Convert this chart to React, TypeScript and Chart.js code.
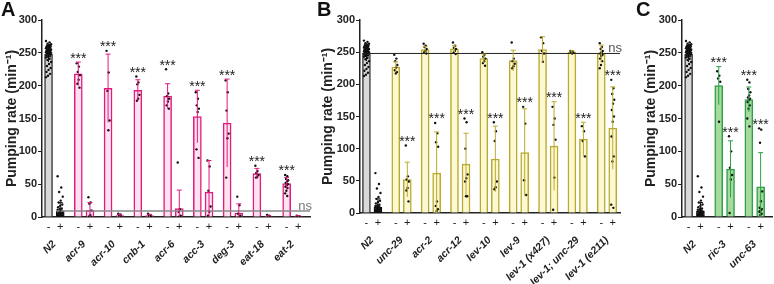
import React, { useEffect, useRef } from 'react';
import { Chart, registerables } from 'chart.js';
Chart.register(...registerables);

// ---------- DATA ----------
const Y_TICK_STEP = 50;
const Y_MAX = 300;
const SIGN_LABELS = ['-', '+'];
const Y_TITLE = 'Pumping rate (min\u207B\u00B9)';

const N2_MINUS_PTS = [268, 266, 264, 263, 262, 261, 260, 260, 259, 258, 258, 257, 256, 256, 255, 255, 254, 254, 253, 253, 252, 252, 251, 251, 250, 250, 249, 249, 248, 247, 246, 245, 244, 243, 241, 239, 236, 233, 230, 227, 224, 221, 218, 215, 213];
const N2_PLUS_PTS = [62, 45, 38, 31, 25, 22, 19, 17, 15, 13, 12, 11, 10, 9, 8, 7, 6, 6, 5, 5, 4, 4, 3, 3, 2, 2, 1, 1, 0, 0, 0, 0, 0, 0];

// Panel A
const A_GROUPS = ['N2', 'acr-9', 'acr-10', 'cnb-1', 'acr-6', 'acc-3', 'deg-3', 'eat-18', 'eat-2'];
const A_MINUS_MEAN = [248, 218, 196, 193, 184, 153, 143, 66, 51];
const A_MINUS_SD = [12, 18, 52, 16, 19, 40, 67, 8, 9];
const A_PLUS_MEAN = [9, 10, 2, 2, 13, 38, 6, 1, 1];
const A_PLUS_SD = [13, 12, 2, 2, 28, 48, 14, 1, 1];
const A_MINUS_PTS = [
  N2_MINUS_PTS,
  [234, 229, 221, 216, 209, 203, 197],
  [253, 220, 192, 147, 132],
  [214, 205, 202, 186, 180, 177],
  [225, 188, 184, 180, 176, 170, 165],
  [190, 180, 170, 165, 160, 103, 90],
  [208, 190, 162, 127, 120, 60],
  [78, 70, 67, 64, 61, 60],
  [64, 62, 58, 56, 54, 52, 50, 48, 46, 44, 40, 36, 32],
];
const A_PLUS_PTS = [
  N2_PLUS_PTS,
  [30, 22, 20, 10, 3, 1, 0],
  [5, 4, 2, 1, 0],
  [5, 3, 2, 1, 0],
  [83, 12, 8, 2, 0, 0],
  [86, 77, 40, 16, 8, 2],
  [31, 18, 5, 2, 0],
  [3, 2, 1, 1, 0],
  [2, 1, 1, 0, 0, 0],
];
const A_MINUS_SIG = ['', '***', '***', '***', '***', '***', '***', '***', '***'];
const A_PLUS_SIG = ['', '', '', '', '', '', '', '', ''];

// Panel B
const B_GROUPS = ['N2', 'unc-29', 'acr-2', 'acr-12', 'lev-10', 'lev-9', 'lev-1 (x427)', 'lev-1; unc-29', 'lev-1 (e211)'];
const B_MINUS_MEAN = [248, 227, 254, 255, 240, 237, 254, 250, 248];
const B_MINUS_SD = [12, 8, 5, 5, 7, 16, 20, 2, 13];
const B_PLUS_MEAN = [9, 52, 62, 76, 84, 94, 104, 115, 132];
const B_PLUS_SD = [13, 27, 64, 48, 51, 68, 69, 26, 64];
const B_MINUS_PTS = [
  N2_MINUS_PTS,
  [246, 240, 236, 230, 226, 222, 219, 217],
  [263, 260, 258, 255, 252, 250, 248],
  [265, 260, 257, 255, 252, 249, 247],
  [250, 246, 243, 240, 236, 233, 229],
  [265, 240, 236, 232, 228, 225],
  [273, 264, 252, 248, 235],
  [252, 251, 250, 249, 248],
  [264, 258, 255, 252, 250, 248, 246, 244, 240, 236, 230, 225],
];
const B_PLUS_PTS = [
  N2_PLUS_PTS,
  [105, 57, 52, 49, 39, 35, 18],
  [140, 124, 110, 103, 18, 11, 6, 3],
  [147, 141, 100, 60, 54, 49, 26, 26],
  [141, 127, 112, 49, 40, 37],
  [165, 139, 51, 28],
  [165, 147, 137, 114, 55, 5],
  [135, 127, 112, 88],
  [207, 194, 185, 176, 170, 160, 150, 142, 119, 88, 80, 13, 8],
];
const B_MINUS_SIG = ['', '', '', '', '', '', '', '', ''];
const B_PLUS_SIG = ['', '***', '***', '***', '***', '***', '***', '***', '***'];

// Panel C
const C_GROUPS = ['N2', 'ric-3', 'unc-63'];
const C_MINUS_MEAN = [248, 200, 179];
const C_MINUS_SD = [12, 29, 19];
const C_PLUS_MEAN = [9, 73, 46];
const C_PLUS_SD = [13, 43, 52];
const C_MINUS_PTS = [N2_MINUS_PTS, [222, 215, 211, 206, 145], [209, 205, 195, 190, 185, 182, 180, 178, 175, 170, 165, 150, 138]];
const C_PLUS_PTS = [N2_PLUS_PTS, [123, 100, 75, 64, 57, 6], [135, 133, 113, 39, 24, 14, 12, 10, 8, 5, 3]];
const C_MINUS_SIG = ['', '***', '***'];
const C_PLUS_SIG = ['', '***', '***'];

// ---------- STYLE / LAYOUT ----------
const FONT = '"Liberation Sans", Arial, Helvetica, sans-serif';
const H = 284;
const GAP = 2.55;
const X_MIN = -0.56;

type RefLine = { value: number; startBar: [number, number]; color: string; width: number; textColor: string };
type Panel = {
  key: string; letter: string; letterX: number;
  left: number; width: number; yWidth: number; padRight: number; bottom: number; xMax: number;
  groups: string[]; minusMean: number[]; minusSd: number[]; plusMean: number[]; plusSd: number[];
  minusPts: number[][]; plusPts: number[][]; minusSig: string[]; plusSig: string[];
  border: string; fill: string; plusFill: string; ref?: RefLine;
};

const PANELS: Panel[] = [
  {
    key: 'A', letter: 'A', letterX: 1, left: 0, width: 316, yWidth: 42, padRight: 6, bottom: 217, xMax: 22.4,
    groups: A_GROUPS, minusMean: A_MINUS_MEAN, minusSd: A_MINUS_SD, plusMean: A_PLUS_MEAN, plusSd: A_PLUS_SD,
    minusPts: A_MINUS_PTS, plusPts: A_PLUS_PTS, minusSig: A_MINUS_SIG, plusSig: A_PLUS_SIG,
    border: '#e3197e', fill: '#fde2f0', plusFill: '#fde2f0',
    ref: { value: A_PLUS_MEAN[0], startBar: [0, 1], color: '#8a8a8a', width: 1.5, textColor: '#777' },
  },
  {
    key: 'B', letter: 'B', letterX: 317, left: 316, width: 323, yWidth: 44, padRight: 19, bottom: 213, xMax: 22.03,
    groups: B_GROUPS, minusMean: B_MINUS_MEAN, minusSd: B_MINUS_SD, plusMean: B_PLUS_MEAN, plusSd: B_PLUS_SD,
    minusPts: B_MINUS_PTS, plusPts: B_PLUS_PTS, minusSig: B_MINUS_SIG, plusSig: B_PLUS_SIG,
    border: '#b9aa2e', fill: '#fcf9d2', plusFill: '#fcf9d2',
    ref: { value: B_MINUS_MEAN[0], startBar: [0, 0], color: '#222', width: 1, textColor: '#555' },
  },
  {
    key: 'C', letter: 'C', letterX: 636, left: 639, width: 135, yWidth: 43, padRight: 1, bottom: 217, xMax: 7.13,
    groups: C_GROUPS, minusMean: C_MINUS_MEAN, minusSd: C_MINUS_SD, plusMean: C_PLUS_MEAN, plusSd: C_PLUS_SD,
    minusPts: C_MINUS_PTS, plusPts: C_PLUS_PTS, minusSig: C_MINUS_SIG, plusSig: C_PLUS_SIG,
    border: '#2f9f4a', fill: '#a5dc9e', plusFill: '#a5dc9e',
  },
];

const pos = (g: number, s: number) => g * GAP + s;

function jitter(i: number, n: number) {
  const spread = n > 15 ? 0.22 : 0.13;
  return (((i * 7) % 11) - 5) / 5 * spread;
}

function overlay(p: Panel) {
  return {
    id: 'overlay' + p.key,
    afterDatasetsDraw(chart: any) {
      const xs = chart.scales.x, ys = chart.scales.y, ctx = chart.ctx;
      const area = chart.chartArea;
      ctx.save();
      if (p.ref) {
        const y = ys.getPixelForValue(p.ref.value);
        const x0 = xs.getPixelForValue(pos(p.ref.startBar[0], p.ref.startBar[1])) - 4;
        ctx.strokeStyle = p.ref.color;
        ctx.lineWidth = p.ref.width;
        ctx.beginPath();
        ctx.moveTo(x0, y);
        ctx.lineTo(area.right, y);
        ctx.stroke();
        ctx.fillStyle = p.ref.textColor;
        ctx.font = '13px ' + FONT;
        ctx.textAlign = 'right';
        ctx.textBaseline = 'alphabetic';
        ctx.fillText('ns', area.right + 2, y - 1.5);
      }
      p.groups.forEach((_, g) => {
        [0, 1].forEach((s) => {
          const mean = s ? p.plusMean[g] : p.minusMean[g];
          const sd = s ? p.plusSd[g] : p.minusSd[g];
          const pts = s ? p.plusPts[g] : p.minusPts[g];
          const sig = s ? p.plusSig[g] : p.minusSig[g];
          const px = xs.getPixelForValue(pos(g, s));
          const color = g === 0 ? '#111' : p.border;
          const yt = ys.getPixelForValue(mean + sd);
          const yb = ys.getPixelForValue(Math.max(mean - sd, 0));
          ctx.strokeStyle = color;
          ctx.lineWidth = 1;
          ctx.beginPath();
          ctx.moveTo(px, yb);
          ctx.lineTo(px, yt);
          ctx.moveTo(px - 2.5, yt);
          ctx.lineTo(px + 2.5, yt);
          ctx.stroke();
          if (sig) {
            const topVal = Math.max(mean + sd, ...pts);
            const cy = ys.getPixelForValue(topVal) - 6.5;
            ctx.font = '14px ' + FONT;
            ctx.fillStyle = '#222';
            ctx.textAlign = 'center';
            ctx.textBaseline = 'alphabetic';
            const m = ctx.measureText(sig);
            const base = cy - (m.actualBoundingBoxDescent - m.actualBoundingBoxAscent) / 2;
            ctx.fillText(sig, px, base);
          }
        });
      });
      ctx.restore();
    },
  };
}

function buildConfig(p: Panel): any {
  const barPositions: number[] = [];
  const bars: any[] = [];
  const fills: string[] = [];
  const borders: string[] = [];
  const dots: any[] = [];
  p.groups.forEach((_, g) => {
    [0, 1].forEach((s) => {
      const x = pos(g, s);
      barPositions.push(x);
      bars.push({ x, y: s ? p.plusMean[g] : p.minusMean[g] });
      if (g === 0) {
        fills.push(s ? '#bdbdbd' : '#d9d9d9');
        borders.push(s ? '#111' : '#3a3a3a');
      } else {
        fills.push(s ? p.plusFill : p.fill);
        borders.push(p.border);
      }
      const pts = s ? p.plusPts[g] : p.minusPts[g];
      pts.forEach((v, i) => dots.push({ x: x + jitter(i, pts.length), y: v }));
    });
  });
  const signText = barPositions.map((_, i) => SIGN_LABELS[i % 2]);
  const nameTicks = p.groups.map((_, g) => g * GAP + 0.5);
  const xCommon = { type: 'linear', axis: 'x', position: 'bottom', min: X_MIN, max: p.xMax, offset: false };
  return {
    type: 'bar',
    data: {
      datasets: [
        {
          type: 'scatter', data: dots, xAxisID: 'x', yAxisID: 'y', order: 0,
          pointRadius: 1.2, pointHoverRadius: 1.2, backgroundColor: '#111', borderWidth: 0,
        },
        {
          type: 'bar', data: bars, xAxisID: 'x', yAxisID: 'y', order: 1, grouped: false,
          backgroundColor: fills, borderColor: borders, borderWidth: 1.5, barThickness: 8,
        },
      ],
    },
    options: {
      responsive: false,
      animation: false,
      devicePixelRatio: 1,
      layout: { padding: { top: 20, right: p.padRight, bottom: 0, left: 0 } },
      plugins: { legend: { display: false }, tooltip: { enabled: false }, title: { display: false } },
      scales: {
        x: {
          ...xCommon,
          weight: 0,
          grid: { display: true, drawOnChartArea: false, drawTicks: true, tickLength: 3, color: 'rgba(0,0,0,0)', offset: false },
          border: { display: true, color: '#222', width: 1.5 },
          ticks: {
            autoSkip: false, maxRotation: 0, minRotation: 0, padding: 0, color: '#222',
            font: { size: 11, family: FONT },
            callback: (_v: any, i: number) => signText[i],
          },
          afterBuildTicks: (s: any) => { s.ticks = barPositions.map((v) => ({ value: v })); },
          afterFit: (s: any) => { s.height = 12; },
        },
        xn: {
          ...xCommon,
          weight: 1,
          grid: { display: false, offset: false },
          border: { display: false },
          ticks: {
            autoSkip: false, maxRotation: 45, minRotation: 45, padding: 1, color: '#222',
            font: { size: 10.5, weight: 'bold', style: 'italic', family: FONT },
            callback: (_v: any, i: number) => p.groups[i],
          },
          afterBuildTicks: (s: any) => { s.ticks = nameTicks.map((v) => ({ value: v })); },
          afterFit: (s: any) => { s.height = H - p.bottom - 12; },
        },
        y: {
          type: 'linear', position: 'left', min: 0, max: Y_MAX,
          grid: { display: true, drawOnChartArea: false, drawTicks: true, tickLength: 4, color: '#222' },
          border: { display: true, color: '#222', width: 1.5 },
          ticks: { stepSize: Y_TICK_STEP, padding: 1, color: '#222', font: { size: 11, weight: 'bold', family: FONT } },
          title: { display: true, text: Y_TITLE, color: '#222', font: { size: 14, weight: 'bold', family: FONT }, padding: { top: 4, bottom: 4 } },
          afterFit: (s: any) => { s.width = p.yWidth; },
        },
      },
    },
    plugins: [overlay(p)],
  };
}

export default function App() {
  const canvasRefs = useRef<(HTMLCanvasElement | null)[]>([]);
  useEffect(() => {
    document.body.style.margin = '0';
    Chart.defaults.font.family = FONT;
    const charts = PANELS.map((p, i) => new Chart(canvasRefs.current[i] as HTMLCanvasElement, buildConfig(p)));
    return () => charts.forEach((c) => c.destroy());
  }, []);
  return (
    <div style={{ position: 'relative', width: 774, height: H, background: '#fff', overflow: 'hidden' }}>
      {PANELS.map((p, i) => (
        <canvas
          key={p.key}
          ref={(el) => { canvasRefs.current[i] = el; }}
          width={p.width}
          height={H}
          style={{ position: 'absolute', left: p.left, top: 0, width: p.width, height: H, display: 'block' }}
        />
      ))}
      {PANELS.map((p) => (
        <div
          key={'l' + p.key}
          style={{ position: 'absolute', left: p.letterX, top: -2, fontFamily: FONT, fontWeight: 'bold', fontSize: 20, color: '#111', lineHeight: '22px' }}
        >
          {p.letter}
        </div>
      ))}
    </div>
  );
}
